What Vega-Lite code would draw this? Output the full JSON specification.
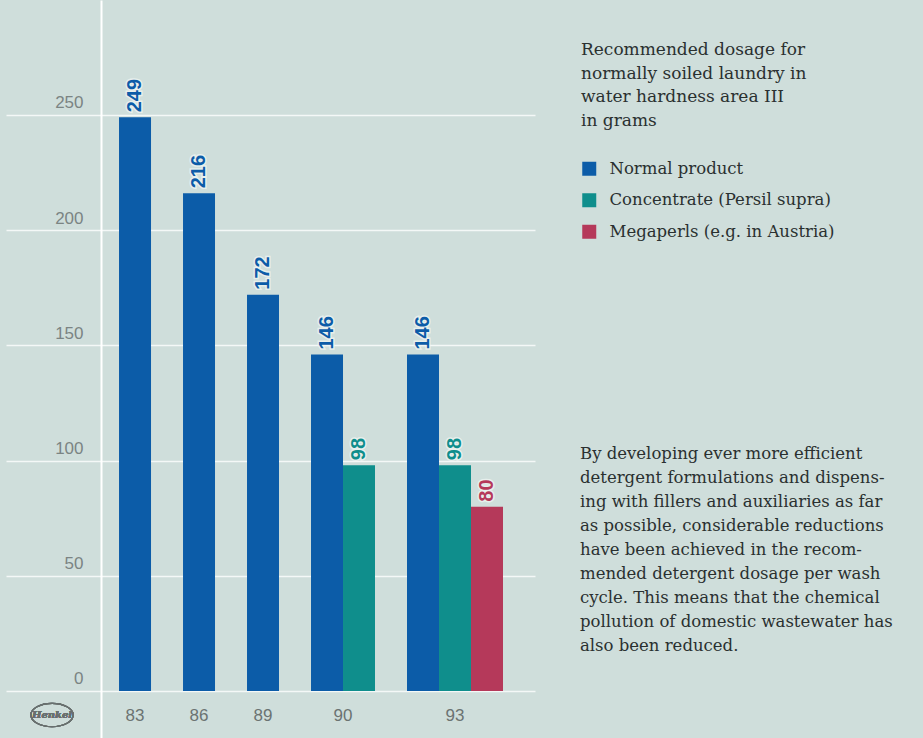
{
  "$schema": "https://vega.github.io/schema/vega-lite/v6.json",
  "autosize": {"type": "none"},
  "width": 529,
  "height": 738,
  "padding": {"left": 6, "top": 0, "right": 388, "bottom": 0},
  "background": "#cfdedb",
  "config": {"view": {"stroke": null}},
  "title": {
    "text": [
      "By developing ever more efficient",
      "detergent formulations and dispens-",
      "ing with fillers and auxiliaries as far",
      "as possible, considerable reductions",
      "have been achieved in the recom-",
      "mended detergent dosage per wash",
      "cycle. This means that the chemical",
      "pollution of domestic wastewater has",
      "also been reduced."
    ],
    "orient": "top",
    "anchor": "start",
    "frame": "group",
    "font": "DejaVu Serif",
    "fontSize": 16.5,
    "fontWeight": "normal",
    "color": "#2a3030",
    "lineHeight": 24,
    "baseline": "top",
    "offset": 0,
    "dx": 574,
    "dy": 654
  },
  "data": {
    "values": [
      {"year": "83", "product": "Normal product", "grams": 249},
      {"year": "86", "product": "Normal product", "grams": 216},
      {"year": "89", "product": "Normal product", "grams": 172},
      {"year": "90", "product": "Normal product", "grams": 146},
      {"year": "90", "product": "Concentrate (Persil supra)", "grams": 98},
      {"year": "93", "product": "Normal product", "grams": 146},
      {"year": "93", "product": "Concentrate (Persil supra)", "grams": 98},
      {"year": "93", "product": "Megaperls (e.g. in Austria)", "grams": 80}
    ]
  },
  "transform": [{"calculate": "datum.year + ' ' + datum.product", "as": "bar"}],
  "layer": [
    {
      "mark": {"type": "bar"},
      "encoding": {
        "x": {
          "field": "bar",
          "type": "nominal",
          "sort": null,
          "scale": {
            "domain": ["lead a", "lead b", "lead c", "83 Normal product", "gap a", "86 Normal product", "gap b", "89 Normal product", "gap c", "90 Normal product", "90 Concentrate (Persil supra)", "gap d", "93 Normal product", "93 Concentrate (Persil supra)", "93 Megaperls (e.g. in Austria)", "tail a"],
            "paddingInner": 0,
            "paddingOuter": 0.266,
            "align": 1
          },
          "axis": {
            "title": null,
            "domain": false,
            "ticks": false,
            "tickSize": 0,
            "grid": false,
            "labelAngle": 0,
            "labelBaseline": "middle",
            "labelPadding": -23,
            "labelFont": "Liberation Sans",
            "labelFontSize": 17,
            "labelColor": "#6b7372",
            "labelExpr": "datum.value == '83 Normal product' ? '83' : datum.value == '86 Normal product' ? '86' : datum.value == '89 Normal product' ? '89' : datum.value == '90 Concentrate (Persil supra)' ? '90' : datum.value == '93 Concentrate (Persil supra)' ? '93' : ''",
            "labelOffset": {"condition": {"test": "datum.value == '90 Concentrate (Persil supra)'", "value": -16}, "value": 0}
          }
        },
        "y": {
          "field": "grams",
          "type": "quantitative",
          "scale": {"domain": [-20.4, 299.9], "nice": false, "zero": false},
          "axis": {
            "title": null,
            "orient": "left",
            "offset": -95,
            "values": [0, 50, 100, 150, 200, 250],
            "grid": true,
            "gridColor": "#f4f8f7",
            "gridWidth": 1.5,
            "domain": true,
            "domainColor": "#ffffff",
            "domainWidth": 2,
            "ticks": false,
            "tickSize": 0,
            "labelPadding": 18,
            "labelBaseline": "alphabetic",
            "labelOffset": -7,
            "labelFont": "Liberation Sans",
            "labelFontSize": 17,
            "labelColor": "#7b8483"
          }
        },
        "y2": {"datum": 0},
        "color": {
          "field": "product",
          "type": "nominal",
          "scale": {
            "domain": ["Normal product", "Concentrate (Persil supra)", "Megaperls (e.g. in Austria)"],
            "range": ["#0c5ca8", "#0f8e8c", "#b5395a"]
          },
          "legend": {
            "orient": "none",
            "legendX": 575,
            "legendY": 42,
            "title": ["Recommended dosage for", "normally soiled laundry in", "water hardness area III", "in grams"],
            "titleFont": "DejaVu Serif",
            "titleFontSize": 17,
            "titleFontWeight": "normal",
            "titleColor": "#2a3030",
            "titleLineHeight": 23.5,
            "titleLimit": 400,
            "titlePadding": 31,
            "titleBaseline": "top",
            "labelFont": "DejaVu Serif",
            "labelFontSize": 16.5,
            "labelColor": "#2a3030",
            "labelLimit": 400,
            "labelOffset": 12,
            "symbolType": "square",
            "symbolSize": 196,
            "symbolStrokeWidth": 0,
            "rowPadding": 14.5,
            "padding": 0
          }
        }
      }
    },
    {
      "mark": {"type": "text", "angle": 270, "align": "left", "baseline": "middle", "dx": 5, "font": "Liberation Sans", "fontSize": 20, "fontWeight": "bold", "stroke": "#eef4f2", "strokeWidth": 3, "strokeOpacity": 0.8, "fill": "#eef4f2"},
      "encoding": {
        "x": {"field": "bar", "type": "nominal", "sort": null},
        "y": {"field": "grams", "type": "quantitative"},
        "text": {"field": "grams", "type": "quantitative"}
      }
    },
    {
      "mark": {"type": "text", "angle": 270, "align": "left", "baseline": "middle", "dx": 5, "font": "Liberation Sans", "fontSize": 20, "fontWeight": "bold"},
      "encoding": {
        "x": {"field": "bar", "type": "nominal", "sort": null},
        "y": {"field": "grams", "type": "quantitative"},
        "text": {"field": "grams", "type": "quantitative"},
        "color": {"field": "product", "type": "nominal", "legend": null}
      }
    },
    {
      "mark": {"type": "point", "shape": "M-1,0A1,0.55,0,1,0,1,0A1,0.55,0,1,0,-1,0Z", "size": 1800, "filled": false, "stroke": "#69706f", "strokeWidth": 1.2, "xOffset": -83},
      "encoding": {
        "x": {"datum": "83 Normal product"},
        "y": {"datum": -10.4}
      }
    },
    {
      "mark": {"type": "text", "text": "Henkel", "font": "DejaVu Serif", "fontSize": 10, "fontWeight": "bold", "fontStyle": "italic", "color": "#69706f", "align": "center", "baseline": "middle", "xOffset": -83},
      "encoding": {
        "x": {"datum": "83 Normal product"},
        "y": {"datum": -10.4}
      }
    }
  ]
}
